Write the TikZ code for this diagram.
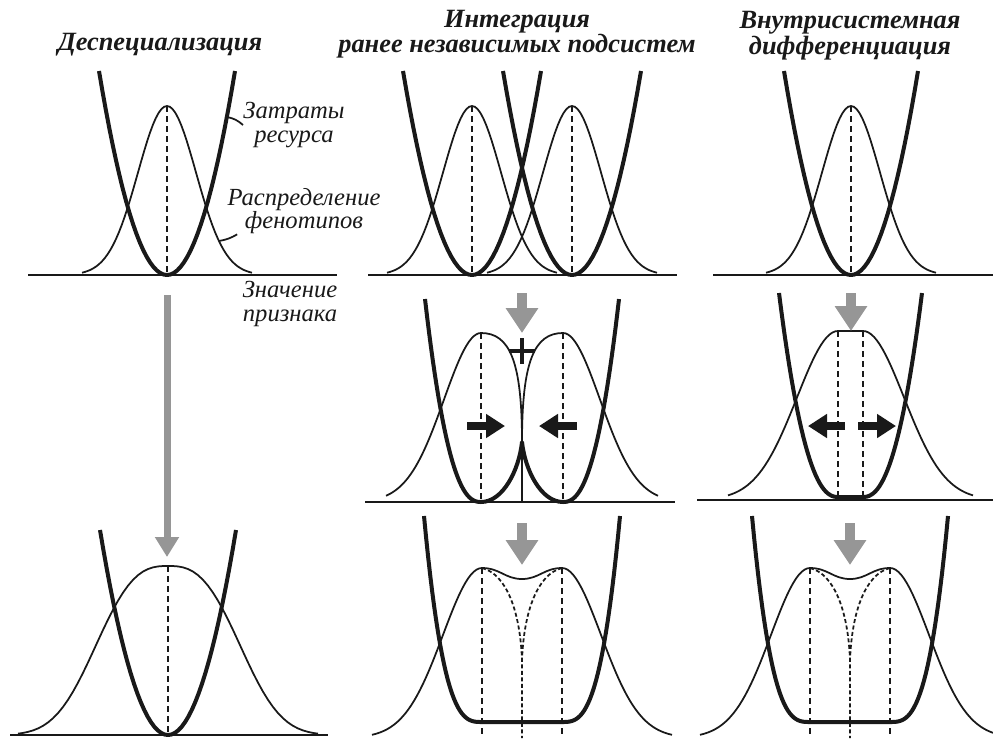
\documentclass[tikz,border=0pt]{standalone}
\usepackage{fontspec}
\setmainfont{Liberation Serif}
\usepackage{tikz}
\usetikzlibrary{arrows.meta}
\definecolor{arrowgrey}{RGB}{150,150,150}
\definecolor{inkblack}{RGB}{25,25,25}

\begin{document}
\begin{tikzpicture}[x=0.2mm, y=-0.2mm, inkblack,
  cost/.style={line width=0.8mm, line join=round},
  distr/.style={line width=0.35mm},
  axisline/.style={line width=0.5mm},
  mean/.style={line width=0.35mm, dash pattern=on 1.2mm off 0.8mm},
  hidden/.style={line width=0.35mm, dash pattern=on 0.8mm off 0.5mm},
  selarrow/.style={arrowgrey, line width=2mm, -{Triangle[length=5mm, width=6.2mm]}},
  pusharrow/.style={line width=1.6mm, -{Triangle[length=3.8mm, width=4.6mm]}},
  heading/.style={font=\fontsize{15}{13}\selectfont\bfseries\itshape, align=center},
  lbl/.style={font=\fontsize{14}{13.5}\selectfont\itshape, align=center, inner sep=0pt}]
  \useasboundingbox (0,0) rectangle (993,738);
  % Titles
  \node[heading] (titleDesp) at (160,45) {Деспециализация};
  \node[heading] (titleInteg) at (517,34) {Интеграция\\ранее независимых подсистем};
  \node[heading] (titleDiff) at (850,36) {Внутрисистемная\\дифференциация};
  % Despecialisation, initial state
  \draw[axisline] (28,275) -- (337,275);
  \draw[distr] plot[domain=-85:85, samples=61] ({167+\x},{275-169*exp(-0.5*(\x/29)*(\x/29))});
  \draw[cost] plot[domain=-68:68, samples=41] ({167+\x},{275-204*(\x/68)*(\x/68)});
  \draw[mean] (167,106) -- (167,275);
  % Labels
  \node[lbl] (lblCost) at (294,125) {Затраты\\ресурса};
  \coordinate (costPt) at (227,117);
  \draw[distr] (costPt) to[bend left=15] (lblCost.west);
  \node[lbl] (lblDistr) at (304,211) {Распределение\\фенотипов};
  \coordinate (distrPt) at (219,241);
  \draw[distr] (distrPt) to[bend right=10] ([xshift=2mm]lblDistr.south west);
  \node[lbl] (lblTrait) at (290,304) {Значение\\признака};
  % Despecialisation, shift
  \draw[selarrow, line width=1.4mm, -{Triangle[length=4mm, width=4.6mm]}] (167,295) -- (167,557);
  % Despecialisation, final state
  \draw[axisline] (10,735) -- (328,735);
  \draw[distr] plot[domain=-150:150, samples=61] ({168+\x},{735-169*exp(-((abs(\x)+0.01)/85)^2.77)});
  \draw[cost] plot[domain=-68:68, samples=41] ({168+\x},{735-205*(\x/68)*(\x/68)});
  \draw[mean] (168,566) -- (168,735);

  % Integration, initial state
  \draw[axisline] (368,275) -- (677,275);
  \draw[distr] plot[domain=-85:85, samples=61] ({472+\x},{275-169*exp(-0.5*(\x/29)*(\x/29))});
  \draw[distr] plot[domain=-85:85, samples=61] ({572+\x},{275-169*exp(-0.5*(\x/29)*(\x/29))});
  \draw[cost] plot[domain=-69:69, samples=41] ({472+\x},{275-204*(\x/69)*(\x/69)});
  \draw[cost] plot[domain=-69:69, samples=41] ({572+\x},{275-204*(\x/69)*(\x/69)});
  \draw[mean] (472,106) -- (472,275);
  \draw[mean] (572,106) -- (572,275);
  % Integration, selection
  \draw[axisline] (365,502) -- (675,502);
  \draw[distr] plot[domain=-95:0, samples=40] ({481+\x},{502-169*exp(-0.5*(\x/37)*(\x/37))})
    .. controls (510,333) and (522,362) .. (522,442);
  \draw[distr] plot[domain=95:0, samples=40] ({563+\x},{502-169*exp(-0.5*(\x/37)*(\x/37))})
    .. controls (534,333) and (522,362) .. (522,442);
  \draw[cost] plot[domain=-56:-0.01, samples=30] ({481+\x},{502-203*(abs(\x)/56)^2.4})
    .. controls (503,502) and (519,470) .. (522,442)
    .. controls (525,470) and (541,502) .. (563,502)
    -- plot[domain=0.01:56, samples=30] ({563+\x},{502-203*(\x/56)^2.4});
  \draw[distr] (522,442) -- (522,502);
  \draw[mean] (481,333) -- (481,502);
  \draw[mean] (563,333) -- (563,502);
  \draw[line width=0.9mm] (509,351) -- (535,351) (522,338) -- (522,364);
  \draw[selarrow] (522,293) -- (522,333);
  \draw[pusharrow] (467,426) -- (505,426);
  \draw[pusharrow] (577,426) -- (539,426);
  % Integration, final state
  \draw[distr] plot[domain=-110:0, samples=40] ({482+\x},{738-170*exp(-0.5*(\x/39)*(\x/39))})
    .. controls (500,568) and (505,579) .. (522,579)
    .. controls (539,579) and (544,568) .. (562,568)
    -- plot[domain=0:110, samples=40] ({562+\x},{738-170*exp(-0.5*(\x/39)*(\x/39))});
  \draw[hidden] (482,568) .. controls (506,574) and (520,610) .. (522,660) -- (522,738);
  \draw[hidden] (562,568) .. controls (538,574) and (524,610) .. (522,660);
  \draw[cost] plot[domain=-58:-0.01, samples=30] ({482+\x},{722-206*(abs(\x)/58)^3})
    -- plot[domain=0.01:58, samples=30] ({562+\x},{722-206*(\x/58)^3});
  \draw[mean] (482,568) -- (482,738);
  \draw[mean] (562,568) -- (562,738);
  \draw[selarrow] (522,523) -- (522,565);

  % Differentiation, initial state
  \draw[axisline] (713,275) -- (993,275);
  \draw[distr] plot[domain=-85:85, samples=61] ({851+\x},{275-169*exp(-0.5*(\x/29)*(\x/29))});
  \draw[cost] plot[domain=-67:67, samples=41] ({851+\x},{275-204*(\x/67)*(\x/67)});
  \draw[mean] (851,106) -- (851,275);
  % Differentiation, selection
  \draw[axisline] (697,500) -- (993,500);
  \draw[distr] plot[domain=-110:0, samples=40] ({838+\x},{500-169*exp(-0.5*(\x/41)*(\x/41))})
    -- plot[domain=0:110, samples=40] ({863+\x},{500-169*exp(-0.5*(\x/41)*(\x/41))});
  \draw[cost] plot[domain=-59:-0.01, samples=30] ({838+\x},{497-204*(abs(\x)/59)^2.3})
    -- plot[domain=0.01:59, samples=30] ({863+\x},{497-204*(\x/59)^2.3});
  \draw[mean] (838,331) -- (838,500);
  \draw[mean] (863,331) -- (863,500);
  \draw[selarrow] (851,293) -- (851,331);
  \draw[pusharrow] (845,426) -- (808,426);
  \draw[pusharrow] (858,426) -- (896,426);
  % Differentiation, final state
  \draw[distr] plot[domain=-110:0, samples=40] ({810+\x},{738-170*exp(-0.5*(\x/39)*(\x/39))})
    .. controls (828,568) and (833,579) .. (850,579)
    .. controls (867,579) and (872,568) .. (890,568)
    -- plot[domain=0:110, samples=40] ({890+\x},{738-170*exp(-0.5*(\x/39)*(\x/39))});
  \draw[hidden] (810,568) .. controls (834,574) and (848,610) .. (850,660) -- (850,738);
  \draw[hidden] (890,568) .. controls (866,574) and (852,610) .. (850,660);
  \draw[cost] plot[domain=-58:-0.01, samples=30] ({810+\x},{722-206*(abs(\x)/58)^3})
    -- plot[domain=0.01:58, samples=30] ({890+\x},{722-206*(\x/58)^3});
  \draw[mean] (810,568) -- (810,738);
  \draw[mean] (890,568) -- (890,738);
  \draw[selarrow] (850,523) -- (850,565);
\end{tikzpicture}
\end{document}
